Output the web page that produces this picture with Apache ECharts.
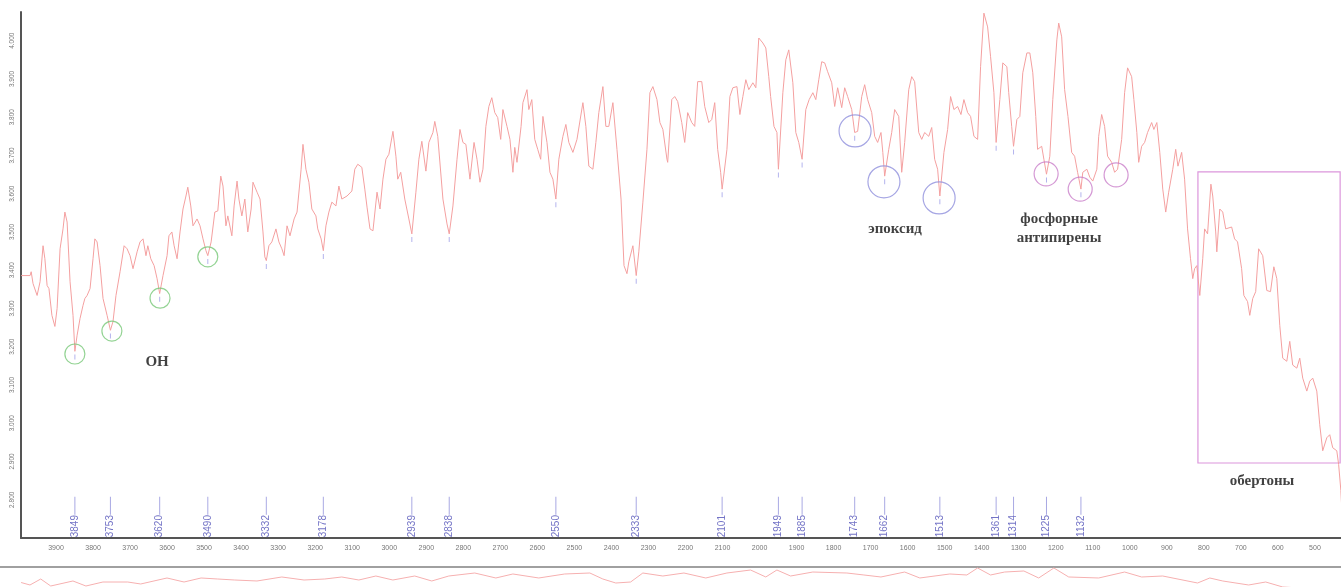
<!DOCTYPE html>
<html>
<head>
<meta charset="utf-8">
<script src="https://cdn.jsdelivr.net/npm/echarts@6/dist/echarts.min.js"></script>
<style>
html,body{margin:0;padding:0;background:#fff;overflow:hidden;}
#chart{width:1341px;height:587px;}
</style>
</head>
<body>
<div id="chart"></div>
<script>
// ---- main spectrum (wavenumber, cm-1) ----
const wavenumbers = [
3994,3970,3967,3962,3957,3951,3943,3935,3930,3924,3919,3911,3903,3897,3889,3881,3876,3870,3862,3854,
3849,3843,3835,3827,3822,3816,3808,3800,3795,3789,3781,3773,3762,3753,3746,3738,3727,3716,3708,3700,
3692,3681,3673,3665,3657,3652,3644,3635,3627,3620,3611,3600,3595,3587,3581,3573,3565,3557,3549,3544,
3536,3530,3519,3511,3503,3495,3490,3481,3471,3463,3455,3449,3441,3436,3425,3419,3411,3406,3398,3390,
3382,3373,3368,3357,3349,3341,3336,3332,3325,3317,3306,3298,3290,3284,3276,3268,3257,3249,3238,3233,
3225,3217,3209,3198,3193,3184,3178,3171,3163,3155,3144,3136,3128,3114,3101,3093,3085,3074,3066,3060,
3052,3044,3033,3025,3017,3009,3001,2990,2982,2977,2969,2958,2947,2939,2928,2920,2912,2901,2893,2882,
2877,2869,2855,2844,2838,2828,2817,2809,2801,2793,2782,2771,2763,2755,2747,2739,2731,2723,2715,2707,
2699,2693,2682,2674,2666,2661,2655,2644,2639,2628,2623,2615,2607,2599,2591,2585,2574,2566,2558,2550,
2542,2531,2523,2515,2504,2493,2488,2477,2469,2461,2450,2442,2434,2423,2415,2407,2396,2385,2374,2366,
2358,2353,2342,2333,2326,2315,2304,2296,2288,2277,2269,2261,2250,2248,2237,2229,2221,2210,2202,2194,
2183,2175,2167,2156,2148,2137,2129,2121,2113,2105,2101,2088,2080,2072,2061,2053,2045,2037,2029,2018,
2010,2002,1991,1983,1975,1970,1961,1953,1949,1937,1929,1921,1910,1902,1894,1885,1875,1866,1856,1848,
1840,1832,1824,1816,1805,1797,1789,1778,1770,1762,1751,1743,1735,1724,1716,1708,1697,1689,1681,1672,
1667,1662,1651,1643,1635,1624,1616,1608,1597,1589,1581,1570,1562,1554,1543,1535,1527,1519,1513,1502,
1492,1484,1475,1465,1456,1448,1438,1430,1421,1411,1403,1394,1384,1376,1367,1361,1351,1343,1332,1327,
1319,1314,1305,1297,1289,1278,1270,1262,1254,1249,1238,1232,1225,1216,1208,1197,1192,1184,1176,1167,
1157,1149,1141,1132,1127,1116,1108,1100,1089,1084,1076,1068,1060,1049,1041,1033,1022,1014,1006,995,
989,981,976,968,960,952,941,935,927,919,911,903,895,884,876,870,860,852,844,836,
830,825,819,811,803,798,790,781,776,768,765,757,749,741,736,725,717,709,698,692,
682,676,668,660,652,641,630,620,611,603,595,587,576,568,560,549,541,533,522,514,
506,495,487,479,468,460,452,441,436,430,425
];
const absorbance = [
3.386,3.386,3.396,3.365,3.360,3.334,3.370,3.464,3.430,3.360,3.352,3.282,3.253,3.300,3.456,3.508,3.552,3.526,3.370,3.282,
3.188,3.230,3.274,3.308,3.326,3.334,3.352,3.430,3.482,3.474,3.412,3.326,3.282,3.243,3.266,3.334,3.396,3.464,3.456,3.438,
3.404,3.448,3.474,3.482,3.438,3.464,3.430,3.412,3.378,3.339,3.386,3.438,3.490,3.500,3.464,3.430,3.500,3.560,3.594,3.617,
3.568,3.516,3.534,3.516,3.482,3.451,3.438,3.474,3.552,3.555,3.646,3.620,3.516,3.542,3.490,3.568,3.633,3.586,3.542,3.586,
3.500,3.560,3.630,3.604,3.586,3.500,3.435,3.425,3.464,3.474,3.508,3.474,3.456,3.438,3.516,3.490,3.534,3.552,3.664,3.729,
3.664,3.630,3.560,3.542,3.508,3.482,3.451,3.516,3.552,3.578,3.568,3.620,3.586,3.594,3.607,3.664,3.677,3.669,3.612,3.565,
3.508,3.503,3.604,3.560,3.638,3.690,3.703,3.763,3.698,3.638,3.656,3.586,3.534,3.495,3.604,3.690,3.737,3.659,3.734,3.760,
3.789,3.750,3.586,3.521,3.495,3.568,3.690,3.768,3.734,3.729,3.638,3.734,3.690,3.630,3.664,3.776,3.828,3.851,3.812,3.799,
3.742,3.820,3.776,3.742,3.656,3.721,3.682,3.776,3.838,3.872,3.820,3.846,3.742,3.716,3.690,3.802,3.734,3.656,3.638,3.586,
3.690,3.750,3.781,3.734,3.708,3.742,3.742,3.838,3.776,3.672,3.664,3.734,3.812,3.880,3.776,3.776,3.838,3.716,3.586,3.412,
3.391,3.422,3.464,3.386,3.448,3.578,3.716,3.864,3.880,3.846,3.786,3.768,3.690,3.682,3.846,3.854,3.841,3.786,3.734,3.812,
3.786,3.776,3.893,3.893,3.828,3.786,3.794,3.838,3.716,3.656,3.612,3.716,3.854,3.877,3.880,3.807,3.854,3.898,3.872,3.890,
3.877,4.007,3.994,3.981,3.906,3.854,3.776,3.760,3.664,3.864,3.950,3.976,3.890,3.760,3.734,3.690,3.820,3.846,3.864,3.846,
3.898,3.945,3.942,3.919,3.890,3.828,3.877,3.825,3.877,3.854,3.820,3.760,3.763,3.854,3.885,3.846,3.812,3.750,3.734,3.760,
3.708,3.646,3.716,3.760,3.820,3.802,3.656,3.734,3.872,3.906,3.893,3.760,3.742,3.760,3.750,3.773,3.690,3.664,3.594,3.708,
3.768,3.854,3.820,3.828,3.807,3.846,3.812,3.802,3.750,3.742,3.932,4.072,4.036,3.958,3.864,3.734,3.846,3.942,3.932,3.864,
3.776,3.724,3.794,3.802,3.916,3.968,3.968,3.916,3.802,3.716,3.724,3.690,3.651,3.698,3.846,4.002,4.046,4.010,3.872,3.802,
3.708,3.698,3.656,3.612,3.656,3.664,3.643,3.633,3.664,3.750,3.807,3.776,3.698,3.682,3.656,3.664,3.742,3.864,3.929,3.906,
3.846,3.760,3.682,3.724,3.734,3.760,3.786,3.768,3.786,3.708,3.612,3.552,3.604,3.664,3.716,3.672,3.708,3.638,3.508,3.430,
3.378,3.404,3.412,3.334,3.430,3.508,3.495,3.625,3.594,3.500,3.448,3.560,3.552,3.508,3.503,3.513,3.482,3.474,3.404,3.334,
3.318,3.282,3.326,3.344,3.456,3.438,3.347,3.344,3.409,3.378,3.256,3.170,3.162,3.214,3.152,3.144,3.170,3.118,3.084,3.110,
3.118,3.084,2.996,2.928,2.962,2.970,2.936,2.928,2.892,2.824,2.728
];

// ---- peak picks ----
const peakWavenumbers = [3849,3753,3620,3490,3332,3178,2939,2838,2550,2333,2101,1949,1885,1743,1662,1513,1361,1314,1225,1132];
const peakMarkValues  = [3.173,3.228,3.324,3.423,3.410,3.436,3.480,3.480,3.571,3.371,3.597,3.649,3.675,3.745,3.631,3.579,3.719,3.709,3.636,3.597];

// ---- annotated bands ----
const ohBandWavenumbers = [3849,3749,3619,3490];
const ohBandValues      = [3.181,3.241,3.327,3.435];
const epoxyBandWavenumbers = [1742,1664,1515];
const epoxyBandValues      = [3.764,3.631,3.589];
const flameBandWavenumbers = [1226,1134,1037];
const flameBandValues      = [3.652,3.612,3.649];
const overtoneRange = [816, 432];
const overtoneValues = [3.657, 2.896];

// ---- lower panel trace ----
const lowerWavenumbers = [3994,3970,3941,3914,3854,3819,3773,3706,3671,3600,3554,3508,3463,3417,3357,3290,3230,3174,3128,3082,
3036,2990,2931,2885,2839,2769,2712,2666,2596,2526,2458,2423,2388,2348,2315,2261,2204,2145,2088,2024,
1983,1953,1916,1856,1764,1718,1672,1608,1567,1486,1440,1411,1376,1338,1286,1246,1205,1165,1084,1014,
968,911,817,784,749,679,633,587,542];
const lowerValues = [0.53,0.455,0.636,0.424,0.576,0.424,0.545,0.545,0.485,0.667,0.545,0.667,0.636,0.606,0.576,0.697,0.606,0.636,0.697,0.606,
0.727,0.606,0.727,0.576,0.727,0.818,0.667,0.788,0.667,0.788,0.818,0.636,0.515,0.545,0.818,0.727,0.818,0.667,0.818,0.909,
0.697,0.909,0.727,0.848,0.818,0.758,0.697,0.848,0.667,0.788,0.758,0.970,0.758,0.848,0.879,0.667,0.970,0.697,0.667,0.848,
0.697,0.727,0.515,0.667,0.576,0.455,0.545,0.394,0.364];

const xTickLabels = [3900,3800,3700,3600,3500,3400,3300,3200,3100,3000,2900,2800,2700,2600,2500,2400,2300,2200,2100,2000,1900,1800,1700,1600,1500,1400,1300,1200,1100,1000,900,800,700,600,500,400];

// ---- layout constants (not data) ----
const PEAK_LINE_LEVEL = 2.784;
const PEAK_LABEL_LEVEL = 2.731;

const spectrum = wavenumbers.map((w, i) => [w, absorbance[i]]);
const lower = lowerWavenumbers.map((w, i) => [w, lowerValues[i]]);
const isTick = v => xTickLabels.indexOf(Math.round(v)) >= 0 && Math.abs(v - Math.round(v)) < 1e-6;
const isYTick = v => Math.abs(v * 10 - Math.round(v * 10)) < 1e-6;

const chart = echarts.init(document.getElementById('chart'), null, {renderer: 'canvas'});
const serif = '"Liberation Serif","DejaVu Serif",serif';

chart.setOption({
  animation: false,
  backgroundColor: '#ffffff',
  grid: [
    {left: 21, width: 1368, top: 12, height: 526, containLabel: false, outerBoundsMode: 'none'},
    {left: 0, width: 1389, top: 567, height: 33, containLabel: false, outerBoundsMode: 'none'}
  ],
  xAxis: [
    {
      type: 'value', gridIndex: 0, inverse: true, min: 300, max: 3994.5, interval: 100,
      axisLine: {show: true, onZero: false, lineStyle: {color: '#555', width: 2}},
      axisTick: {show: false},
      splitLine: {show: false},
      axisLabel: {show: true, fontSize: 7, color: '#777', margin: 7, fontFamily: '"Liberation Sans",Arial,sans-serif',
        formatter: v => isTick(v) ? String(Math.round(v)) : '', hideOverlap: false}
    },
    {
      type: 'value', gridIndex: 1, inverse: true, min: 300, max: 4051, position: 'top',
      axisLine: {show: true, onZero: false, lineStyle: {color: '#a0a0a0', width: 2}},
      axisTick: {show: false}, splitLine: {show: false}, axisLabel: {show: false}
    }
  ],
  yAxis: [
    {
      type: 'value', gridIndex: 0, min: 2.7, max: 4.075, interval: 0.1,
      axisLine: {show: true, onZero: false, lineStyle: {color: '#555', width: 2}},
      axisTick: {show: false},
      splitLine: {show: false},
      axisLabel: {show: true, fontSize: 6.5, color: '#777', rotate: 90, margin: 5, showMinLabel: false,
        fontFamily: '"Liberation Sans",Arial,sans-serif',
        formatter: v => (isYTick(v) && v > 2.75) ? v.toFixed(3) : ''}
    },
    {type: 'value', gridIndex: 1, min: 0, max: 1, show: false}
  ],
  series: [
    {
      name: 'spectrum', type: 'line', xAxisIndex: 0, yAxisIndex: 0,
      data: spectrum, symbol: 'none', smooth: false,
      lineStyle: {color: '#f4a0a0', width: 1},
      z: 3,
      markArea: {
        silent: true,
        itemStyle: {color: 'rgba(0,0,0,0)', borderColor: '#dc96dc', borderWidth: 1.2},
        data: [[{coord: [overtoneRange[0], overtoneValues[0]]}, {coord: [overtoneRange[1], overtoneValues[1]]}]]
      }
    },
    {
      name: 'peakLines', type: 'scatter', xAxisIndex: 0, yAxisIndex: 0,
      data: peakWavenumbers.map(w => [w, PEAK_LINE_LEVEL]),
      symbol: 'rect', symbolSize: [1, 18],
      itemStyle: {color: '#9494dc'}, z: 4
    },
    {
      name: 'peakLabels', type: 'scatter', xAxisIndex: 0, yAxisIndex: 0,
      data: peakWavenumbers.map(w => [w, PEAK_LABEL_LEVEL]),
      symbol: 'rect', symbolSize: 0.1,
      itemStyle: {color: 'rgba(0,0,0,0)'},
      label: {show: true, position: 'inside', rotate: 90, fontSize: 10, color: '#5050b8',
        fontFamily: '"Liberation Sans",Arial,sans-serif', formatter: p => String(p.value[0])},
      z: 4
    },
    {
      name: 'peakMarks', type: 'scatter', xAxisIndex: 0, yAxisIndex: 0,
      data: peakWavenumbers.map((w, i) => [w, peakMarkValues[i]]),
      symbol: 'rect', symbolSize: [1, 5],
      itemStyle: {color: '#a0a0e8'}, z: 4
    },
    {
      name: 'OH', type: 'scatter', xAxisIndex: 0, yAxisIndex: 0,
      data: ohBandWavenumbers.map((w, i) => [w, ohBandValues[i]]),
      symbol: 'circle', symbolSize: 20,
      itemStyle: {color: 'rgba(0,0,0,0)', borderColor: '#78c878', borderWidth: 1.2}, z: 5
    },
    {
      name: 'epoxy', type: 'scatter', xAxisIndex: 0, yAxisIndex: 0,
      data: epoxyBandWavenumbers.map((w, i) => [w, epoxyBandValues[i]]),
      symbol: 'circle', symbolSize: 32,
      itemStyle: {color: 'rgba(0,0,0,0)', borderColor: '#8e8edc', borderWidth: 1.2}, z: 5
    },
    {
      name: 'flame', type: 'scatter', xAxisIndex: 0, yAxisIndex: 0,
      data: flameBandWavenumbers.map((w, i) => [w, flameBandValues[i]]),
      symbol: 'circle', symbolSize: 24,
      itemStyle: {color: 'rgba(0,0,0,0)', borderColor: '#c97ec9', borderWidth: 1.2}, z: 5
    },
    {
      name: 'annotations', type: 'scatter', xAxisIndex: 0, yAxisIndex: 0,
      symbol: 'rect', symbolSize: 0.1, itemStyle: {color: 'rgba(0,0,0,0)'},
      label: {show: true, position: 'inside', fontFamily: serif, fontWeight: 'bold', fontSize: 15, color: '#111', lineHeight: 19,
        formatter: p => p.data.text},
      data: [
        {value: [3627, 3.160], text: 'OH'},
        {value: [1634, 3.508], text: 'эпоксид'},
        {value: [1191, 3.508], text: 'фосфорные\nантипирены'},
        {value: [643, 2.849], text: 'обертоны'}
      ],
      z: 6
    },
    {
      name: 'lower', type: 'line', xAxisIndex: 1, yAxisIndex: 1,
      data: lower, symbol: 'none',
      lineStyle: {color: '#f6b0b0', width: 1}
    }
  ]
});
</script>
</body>
</html>
